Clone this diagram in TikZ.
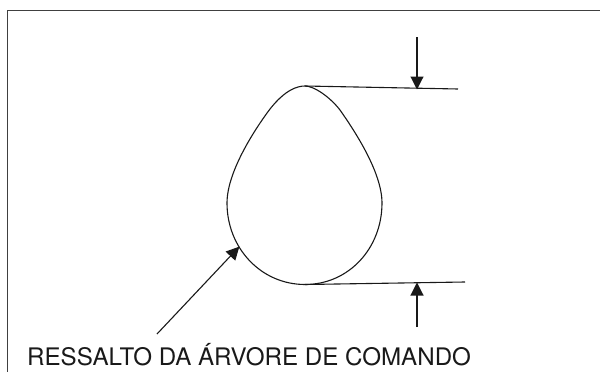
\documentclass[tikz,border=0pt]{standalone}
\usepackage{fontspec}
\setmainfont{TeX Gyre Heros}
\usetikzlibrary{arrows.meta}
\tikzset{
  dimline/.style={line width=1.1pt,black!90},
  dimarrow/.style={line width=1.1pt,black!90,-{Stealth[length=13pt,width=13pt,inset=0pt]},shorten >=-0.5pt},
  framebox/.style={line width=1pt,draw=black!75},
  caption/.style={anchor=base west,inner sep=0pt,text=black!90,font=\fontsize{24.15}{28}\selectfont}
}
\begin{document}
\begin{tikzpicture}[x=1pt,y=-1pt]
\useasboundingbox (0,0) rectangle (600,372);
%frame
\draw[framebox] (7,372) -- (7,10.5) -- (600,10.5);
%cam points
\coordinate (T) at (305,86);
\coordinate (B) at (305,284.5);
\coordinate (L) at (227,203);
\coordinate (R) at (382,203);
\coordinate (SL) at (270,109);
\coordinate (SR) at (340,110);
%cam outline
\draw[dimline] (T) .. controls (297,86) and (285,90) .. (SL)
  .. controls (258,125) and (227,170) .. (L)
  .. controls (227,248) and (261,284.5) .. (B)
  .. controls (349,284.5) and (382,248) .. (R)
  .. controls (382,172) and (354,130) .. (SR)
  .. controls (330,97) and (314,86) .. (T) -- cycle;
%tangents
\coordinate (TE) at (458,89);
\coordinate (BE) at (465,282);
\draw[dimline] (T) -- (TE);
\draw[dimline] (B) -- (BE);
%arrows
\coordinate (A1) at (417,37);
\coordinate (A1E) at (417,89);
\coordinate (A2) at (417,327);
\coordinate (A2E) at (417,283);
\coordinate (A3) at (157,334);
\coordinate (A3E) at (239,247);
\draw[dimarrow] (A1) -- (A1E);
\draw[dimarrow] (A2) -- (A2E);
\draw[dimarrow] (A3) -- (A3E);
\node[caption] (camlabel) at (27,365) {RESSALTO DA ÁRVORE DE COMANDO};
\end{tikzpicture}
\end{document}
